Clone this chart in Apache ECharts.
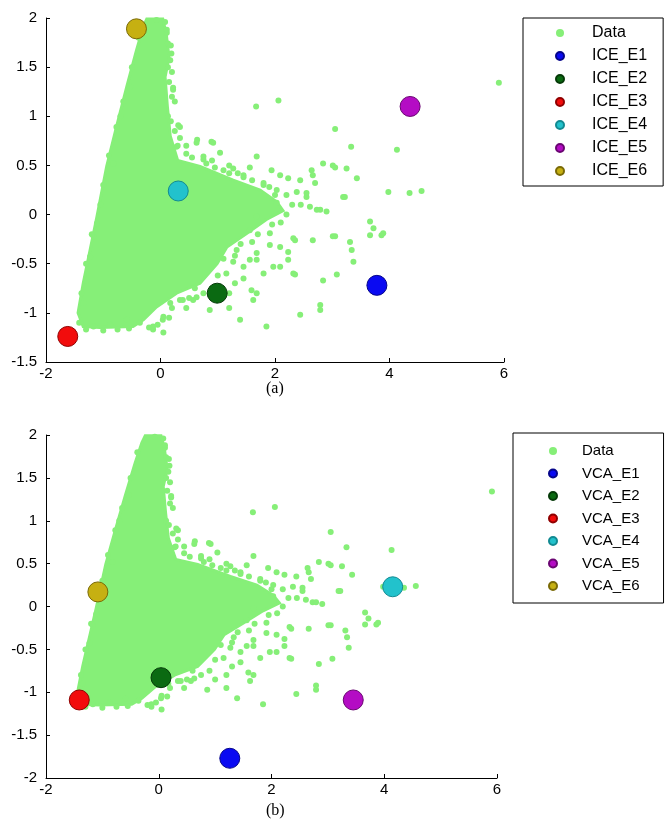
<!DOCTYPE html>
<html>
<head>
<meta charset="utf-8">
<script src="https://cdn.jsdelivr.net/npm/echarts@6/dist/echarts.min.js"></script>
<style>
html,body{margin:0;padding:0;background:#fff;}
#chart{width:665px;height:824px;}
</style>
</head>
<body>
<div id="chart"></div>
<script>
// ---------- data ----------
const xTicks = [-2, 0, 2, 4, 6];
const yTicksA = [-1.5, -1, -0.5, 0, 0.5, 1, 1.5, 2];
const yTicksB = [-2, -1.5, -1, -0.5, 0, 0.5, 1, 1.5, 2];

// outline of the dense part of the data cloud
const cloudOutline = [
  [-0.24,1.99],[0.04,1.99],[0.10,1.84],[0.15,1.60],[0.08,1.40],[0.12,1.10],[0.17,0.80],
  [0.30,0.55],[0.69,0.49],[1.27,0.35],[1.74,0.25],[2.03,0.13],[2.14,0.04],[1.85,-0.05],
  [1.51,-0.19],[1.16,-0.33],[0.99,-0.50],[0.69,-0.70],[0.28,-0.80],[-0.07,-0.94],
  [-0.30,-1.07],[-0.48,-1.14],[-1.06,-1.15],[-1.35,-1.14],[-1.44,-1.00],[-1.35,-0.70],
  [-1.23,-0.36],[-1.11,-0.02],[-0.94,0.49],[-0.77,0.89],[-0.59,1.30],[-0.42,1.67],[-0.30,1.91]
];

// scattered data points (ragged edges of the cloud and outliers)
const dataX = [
  1.67,2.06,3.05,3.33,4.13,0.89,1.04,1.68,0.75,0.95,1.27,1.56,1.94,2.09,2.23,2.44,2.64,2.84,3.05,3.25,
  3.43,2.70,2.38,2.55,2.03,2.03,2.61,2.73,2.90,3.22,3.98,3.66,3.72,3.86,3.66,3.05,3.31,3.34,3.37,3.08,
  2.84,2.79,2.35,2.35,2.23,2.23,2.09,1.91,1.91,1.68,1.56,1.45,1.59,1.62,1.27,1.33,1.56,1.68,1.39,1.85,
  2.44,2.32,2.32,2.66,0.86,1.68,1.68,1.97,2.09,-0.13,0.04,0.34,0.57,0.92,0.64,0.34,0.22,0.17,0.11,5.91,
  4.35,4.56,3.89,2.79,3.01,2.66,3.01,3.19,2.55,2.79,
  0.11,0.13,0.19,0.13,0.22,0.25,0.13,0.31,0.34,0.28,0.63,0.75,-0.07,0.08,
  -0.77,-0.82,-0.53,-1.11,-1.17,-1.23,-1.29,-1.35,
  -1.17,-0.88,-0.59,-0.36,-0.13,0.05,0.17,0.39,0.63,1.80,2.00,1.45,1.20,
  0.45,0.55,0.80,0.90,1.10,1.20,1.35,1.45,1.60,1.80,1.90,2.20,2.30,2.20,2.45,2.10,
  1.95,1.70,1.60,1.40,1.30,1.10,1.15,1.00,0.90,0.75,0.60,0.50,0.45,0.20,0.15,-0.05,-0.20,0.05,1.20,1.30,1.45,1.80,1.20,1.00,
  -1.00,-1.05,-0.90,-0.70,-0.65,-0.50,-0.38,-1.20,-1.30,-1.38,-1.42,-1.30,-1.00,-0.75,-0.55,
  0.18,0.20,0.15,0.20,0.18,0.25,0.30,0.45
];
const dataY = [
  1.10,1.16,0.87,0.69,0.66,0.74,0.63,0.59,0.56,0.48,0.47,0.48,0.45,0.40,0.37,0.35,0.45,0.52,0.48,0.47,
  0.37,0.32,0.23,0.18,0.25,0.12,0.08,0.05,0.03,0.18,0.23,-0.07,-0.14,-0.21,-0.21,-0.22,-0.28,-0.36,-0.48,-0.61,
  -0.67,-0.92,-0.61,-0.26,-0.38,-0.46,-0.53,-0.19,-0.31,-0.39,-0.46,-0.53,-0.77,-0.87,-0.48,-0.36,-0.16,-0.02,-1.07,-1.14,
  -1.02,-0.60,-0.24,-0.26,-0.97,-0.80,-0.46,-0.53,-0.33,-1.17,-1.07,-0.87,-0.87,0.73,0.76,0.89,1.27,1.57,1.85,1.34,
  0.22,0.24,-0.19,-0.97,-0.22,0.40,0.50,0.18,0.22,0.05,
  1.88,1.74,1.64,1.50,1.29,1.15,1.00,0.91,0.78,0.69,0.73,0.59,1.98,1.96,
  0.89,0.52,1.30,-0.09,-0.22,-0.43,-0.67,-0.90,
  -1.14,-1.12,-1.07,-1.10,-1.14,-1.04,-0.90,-0.87,-0.84,0.30,0.20,0.40,0.42,
  0.62,0.58,0.52,0.55,0.45,0.50,0.42,0.38,0.35,0.32,0.28,0.20,0.10,0.00,0.10,-0.08,
  -0.10,-0.20,-0.28,-0.30,-0.42,-0.45,-0.60,-0.62,-0.75,-0.80,-0.75,-0.85,-0.95,-0.95,-1.05,-1.12,-1.15,-1.20,-0.80,-0.70,-0.65,-0.60,-0.95,-0.85,
  0.30,0.10,0.60,1.00,1.15,1.50,1.80,-0.20,-0.50,-0.80,-1.10,-1.17,-1.18,-1.17,-1.16,
  1.72,1.45,1.35,1.20,0.95,0.85,0.70,0.70
];

const iceNames = ['ICE_E1','ICE_E2','ICE_E3','ICE_E4','ICE_E5','ICE_E6'];
const iceX = [3.78, 0.99, -1.62, 0.31, 4.36, -0.42];
const iceY = [-0.72, -0.80, -1.24, 0.24, 1.10, 1.89];

const vcaNames = ['VCA_E1','VCA_E2','VCA_E3','VCA_E4','VCA_E5','VCA_E6'];
const vcaX = [1.26, 0.04, -1.41, 4.15, 3.45, -1.08];
const vcaY = [-1.77, -0.83, -1.09, 0.23, -1.09, 0.17];

// ---------- styles ----------
const dataColor = '#86ef78';
const markerColors = ['#0a0af2', '#0b6a12', '#f20c0c', '#22c2cc', '#b40cc4', '#c6b012'];
const markerBorders = ['#05058a', '#053a08', '#900000', '#128a92', '#6a0672', '#7a6a06'];
const font = '"Liberation Sans", Arial, sans-serif';

const dataPoints = dataX.map((x, i) => [x, dataY[i]]);

function axisCommon() {
  return {
    type: 'value',
    axisLine: { show: true, onZero: false, lineStyle: { color: '#000', width: 1 } },
    axisTick: { show: true, inside: true, length: 4, lineStyle: { color: '#000' } },
    splitLine: { show: false }
  };
}

function cloudSeries(idx) {
  return {
    name: 'Data',
    type: 'custom',
    xAxisIndex: idx, yAxisIndex: idx,
    data: [[0, 0]],
    silent: true,
    z: 1,
    renderItem: function (params, api) {
      const pts = cloudOutline.map(p => api.coord(p));
      return {
        type: 'polygon',
        shape: { points: pts },
        style: { fill: dataColor, stroke: dataColor, lineWidth: 3 }
      };
    }
  };
}

function markerSeries(names, xs, ys, idx) {
  return names.map((n, i) => ({
    name: n,
    type: 'scatter',
    xAxisIndex: idx, yAxisIndex: idx,
    symbol: 'circle',
    symbolSize: 20,
    z: 5,
    itemStyle: { color: markerColors[i], borderColor: markerBorders[i], borderWidth: 1, opacity: 1 },
    data: [[xs[i], ys[i]]]
  }));
}

function legendFor(names, left, top, pad, itemWidth, gap, fs) {
  return {
    orient: 'vertical',
    left: left, top: top,
    padding: pad,
    itemWidth: itemWidth, itemHeight: 8,
    itemGap: gap,
    icon: 'circle',
    borderColor: '#000', borderWidth: 1,
    backgroundColor: '#fff',
    selectedMode: false,
    textStyle: { color: '#000', fontSize: fs, fontFamily: font, lineHeight: 16 },
    data: ['Data'].concat(names)
  };
}

const option = {
  animation: false,
  backgroundColor: '#fff',
  grid: [
    { left: 46, top: 18, width: 458, height: 344 },
    { left: 46, top: 435, width: 451, height: 343 }
  ],
  xAxis: [
    Object.assign(axisCommon(), { gridIndex: 0, min: xTicks[0], max: xTicks[xTicks.length - 1], interval: 2,
      axisLabel: { color: '#000', fontSize: 15, fontFamily: font, margin: 4 } }),
    Object.assign(axisCommon(), { gridIndex: 1, min: xTicks[0], max: xTicks[xTicks.length - 1], interval: 2,
      axisLabel: { color: '#000', fontSize: 15, fontFamily: font, margin: 4 } })
  ],
  yAxis: [
    Object.assign(axisCommon(), { gridIndex: 0, min: yTicksA[0], max: yTicksA[yTicksA.length - 1], interval: 0.5,
      axisLabel: { color: '#000', fontSize: 15, fontFamily: font, margin: 9 } }),
    Object.assign(axisCommon(), { gridIndex: 1, min: yTicksB[0], max: yTicksB[yTicksB.length - 1], interval: 0.5,
      axisLabel: { color: '#000', fontSize: 15, fontFamily: font, margin: 9 } })
  ],
  legend: [
    legendFor(iceNames, 523, 18, [7, 16, 7, 32], 54, 7, 16),
    legendFor(vcaNames, 513, 433, [10, 24, 9, 35], 48, 6.5, 15)
  ],
  graphic: [
    { type: 'text', left: 266, top: 381, style: { text: '(a)', font: '16px "Liberation Serif", "Times New Roman", serif', fill: '#000' } },
    { type: 'text', left: 266, top: 803, style: { text: '(b)', font: '16px "Liberation Serif", "Times New Roman", serif', fill: '#000' } }
  ],
  series: [
    { name: 'Data', type: 'scatter', xAxisIndex: 0, yAxisIndex: 0, symbolSize: 6, z: 2,
      itemStyle: { color: dataColor, opacity: 1 }, data: dataPoints },
    cloudSeries(0)
  ].concat(markerSeries(iceNames, iceX, iceY, 0)).concat([
    { name: 'Data', type: 'scatter', xAxisIndex: 1, yAxisIndex: 1, symbolSize: 6, z: 2,
      itemStyle: { color: dataColor, opacity: 1 }, data: dataPoints },
    cloudSeries(1)
  ]).concat(markerSeries(vcaNames, vcaX, vcaY, 1))
};

const chart = echarts.init(document.getElementById('chart'), null, { renderer: 'canvas' });
chart.setOption(option);
</script>
</body>
</html>
